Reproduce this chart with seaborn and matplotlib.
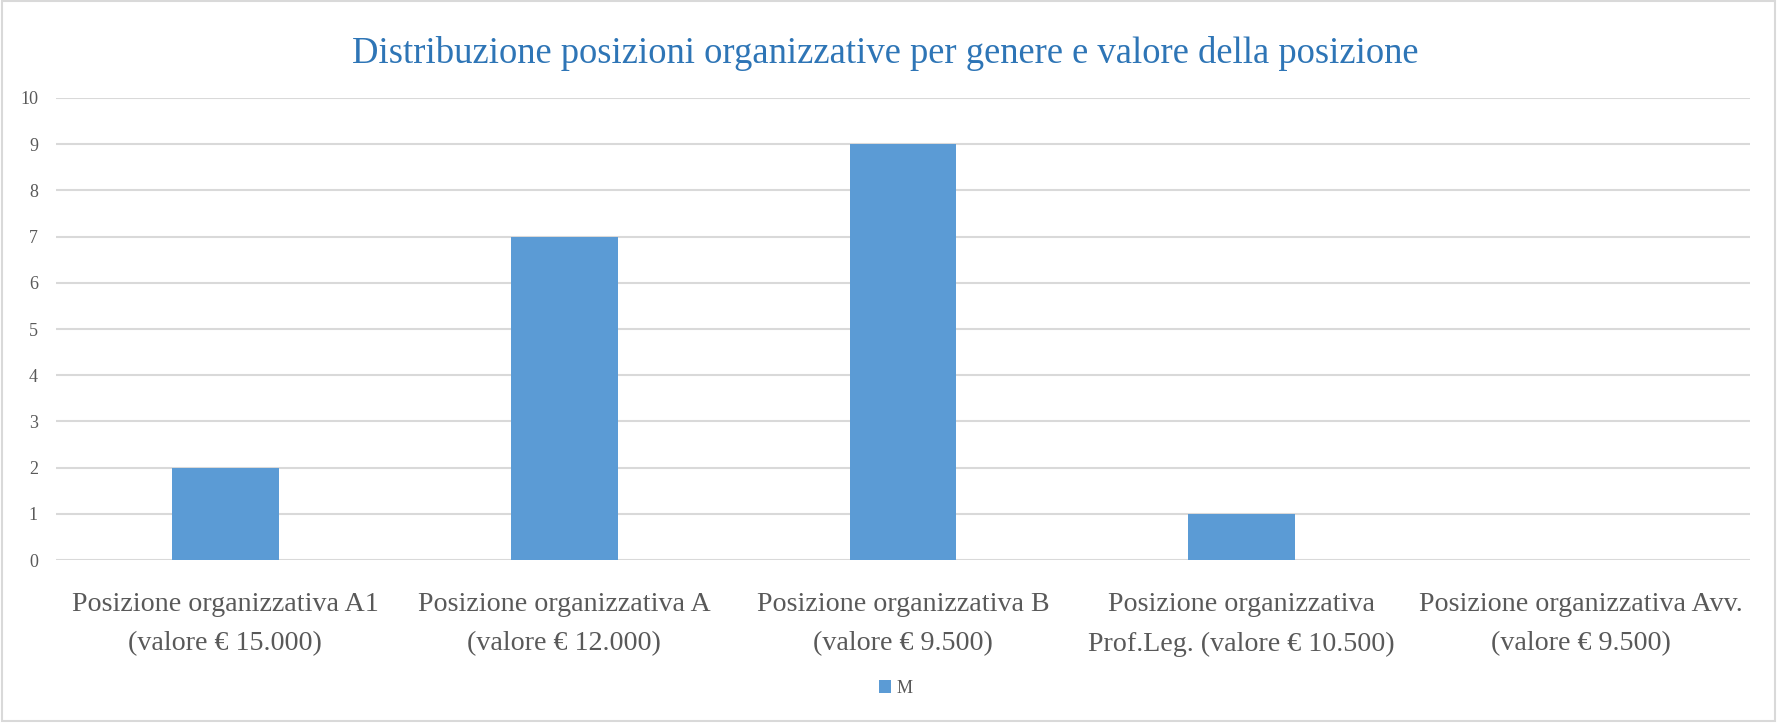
import matplotlib
matplotlib.use("Agg")
import matplotlib.pyplot as plt
import seaborn as sns
import pandas as pd
from matplotlib.patches import Rectangle

categories = [
    "Posizione organizzativa A1\n(valore € 15.000)",
    "Posizione organizzativa A\n(valore € 12.000)",
    "Posizione organizzativa B\n(valore € 9.500)",
    "Posizione organizzativa\nProf.Leg. (valore € 10.500)",
    "Posizione organizzativa Avv.\n(valore € 9.500)",
]
values_M = [2, 7, 9, 1, 0]
series_name = "M"
y_ticks = [0, 1, 2, 3, 4, 5, 6, 7, 8, 9, 10]
title = "Distribuzione posizioni organizzative per genere e valore della posizione"

sns.set_theme(style="white")
plt.rcParams["font.family"] = ["Liberation Serif", "DejaVu Serif"]

df = pd.DataFrame({"cat": categories, "val": values_M, "serie": series_name})

fig = plt.figure(figsize=(17.77, 7.23), dpi=100)
ax = fig.add_axes([0.0315, 0.2254, 0.9533, 0.6391])

sns.barplot(data=df, x="cat", y="val", hue="serie", palette=["#5B9BD5"],
            width=0.315, ax=ax, saturation=1, legend=True, linewidth=0)

ax.set_ylim(0, 10)
ax.set_yticks(y_ticks)
ax.set_xlim(-0.5, len(categories) - 0.5)
ax.yaxis.grid(True, color="#D9D9D9", linewidth=1.5)
ax.set_axisbelow(True)
for s in ax.spines.values():
    s.set_visible(False)
ax.set_xlabel("")
ax.set_ylabel("")
ax.tick_params(axis="y", length=0, pad=13, labelsize=13, labelcolor="#595959")
ax.tick_params(axis="x", length=0, pad=23, labelsize=20.2, labelcolor="#595959")
for lab in ax.get_xticklabels():
    lab.set_linespacing(1.75)

leg = ax.legend(loc="center", bbox_to_anchor=(0.504, 0.048),
                bbox_transform=fig.transFigure, frameon=False,
                fontsize=13, handlelength=0.7, handleheight=0.7,
                handletextpad=0.3)
for t in leg.get_texts():
    t.set_color("#595959")

fig.text(0.498, 0.926, title, ha="center", va="center",
         fontsize=26.4, color="#2E75B6")

fig.patches.append(Rectangle((0.001, 0.003), 0.998, 0.996, transform=fig.transFigure,
                             fill=False, edgecolor="#D9D9D9", linewidth=1.5))

fig.savefig("out.png", dpi=100)
